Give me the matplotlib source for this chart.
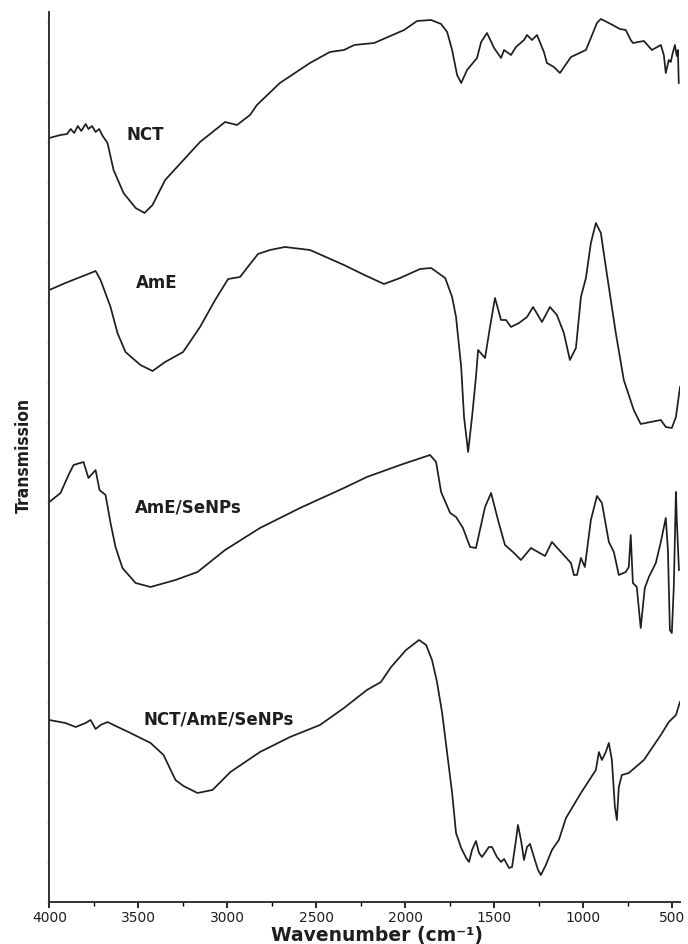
import numpy as np
import matplotlib.pyplot as plt
from matplotlib.ticker import MultipleLocator

# FTIR spectra (wavenumber in cm-1, transmission in offset arbitrary units)
nct_wn = [4000, 3937, 3900, 3880, 3860, 3840, 3820, 3796, 3780, 3760, 3740, 3720, 3700, 3673,
          3639, 3583, 3515, 3465, 3420, 3349, 3153, 3012, 2945, 2872, 2833, 2704, 2535, 2423,
          2344, 2286, 2174, 2006, 1933, 1854, 1798, 1764, 1736, 1708, 1685, 1652, 1596, 1573,
          1540, 1500, 1461, 1444, 1405, 1377, 1332, 1315, 1287, 1259, 1220, 1203, 1164, 1130,
          1068, 984, 956, 922, 900, 855, 793, 760, 732, 720, 658, 613, 563, 546, 535, 518,
          507, 496, 484, 473, 467, 462]
nct_tr = [770, 773, 774, 779, 775, 782, 777, 784, 779, 782, 776, 779, 772, 765,
          738, 715, 700, 695, 703, 728, 766, 786, 783, 793, 803, 825, 845, 856,
          858, 863, 865, 878, 887, 888, 884, 876, 858, 833, 825, 838, 850, 866,
          875, 860, 850, 858, 853, 861, 868, 873, 868, 873, 856, 845, 841, 835,
          851, 858, 870, 885, 889, 885, 879, 878, 868, 865, 867, 858, 863, 853, 835, 848,
          846, 855, 863, 852, 858, 825]

ame_wn = [4000, 3910, 3796, 3740, 3712, 3656, 3617, 3572, 3488, 3420, 3349, 3248, 3153, 3068,
          2995, 2928, 2889, 2827, 2760, 2676, 2535, 2344, 2229, 2119, 2028, 1916, 1854, 1775,
          1736, 1714, 1685, 1669, 1646, 1624, 1602, 1590, 1551, 1523, 1495, 1461, 1433, 1405,
          1360, 1315, 1281, 1231, 1186, 1147, 1108, 1074, 1040, 1012, 984, 956, 928, 900, 872,
          816, 771, 715, 676, 563, 535, 501, 478, 455]
ame_tr = [618, 625, 633, 637, 628, 601, 575, 556, 543, 537, 546, 556, 581, 608,
          629, 631, 640, 654, 658, 661, 658, 643, 633, 624, 630, 639, 640, 630,
          611, 591, 541, 491, 456, 491, 531, 558, 550, 581, 610, 588, 588, 581,
          585, 591, 601, 586, 601, 593, 575, 548, 560, 611, 630, 665, 685, 675, 641,
          575, 528, 498, 484, 488, 481, 480, 491, 521]

ame_se_wn = [4000, 3937, 3892, 3864, 3808, 3780, 3740, 3718, 3684, 3656, 3628, 3589, 3515,
             3431, 3291, 3167, 3012, 2816, 2591, 2344, 2215, 2028, 1860, 1826, 1798, 1747,
             1714, 1675, 1635, 1602, 1551, 1517, 1478, 1439, 1394, 1349, 1293, 1214, 1175,
             1124, 1068, 1051, 1034, 1012, 990, 956, 922, 894, 855, 827, 799, 760, 743, 732,
             720, 698, 676, 653, 630, 591, 563, 535, 523, 512, 501, 490, 478, 473, 461]
ame_se_tr = [406, 415, 433, 443, 446, 430, 438, 418, 413, 385, 361, 340, 325,
             321, 328, 336, 358, 380, 400, 420, 431, 443, 453, 446, 416, 395,
             391, 380, 361, 360, 401, 415, 388, 363, 356, 348, 360, 352, 366,
             356, 345, 333, 333, 350, 341, 388, 412, 405, 366, 356, 333, 336, 341, 373,
             325, 321, 280, 320, 331, 345, 366, 390, 358, 278, 275, 321, 416, 388, 338]

mix_wn = [4000, 3910, 3852, 3796, 3768, 3740, 3712, 3673, 3639, 3544, 3431, 3358, 3291, 3246,
          3167, 3083, 2982, 2816, 2647, 2479, 2344, 2215, 2136, 2079, 1995, 1922, 1882, 1849,
          1821, 1792, 1764, 1736, 1714, 1685, 1657, 1641, 1624, 1602, 1585, 1568, 1529, 1512,
          1484, 1461, 1444, 1416, 1399, 1377, 1366, 1349, 1332, 1315, 1298, 1276, 1253, 1237,
          1209, 1175, 1136, 1096, 1012, 928, 911, 894, 872, 855, 838, 821, 810, 799, 782, 743,
          658, 563, 518, 478, 455]
mix_tr = [188, 185, 181, 185, 188, 179, 183, 186, 183, 175, 165, 153, 128, 122,
          115, 118, 136, 156, 171, 183, 200, 218, 226, 241, 258, 268, 263, 248,
          226, 195, 155, 115, 75, 60, 50, 46, 58, 67, 55, 51, 61, 61,
          51, 46, 49, 40, 41, 68, 83, 68, 48, 61, 64, 51, 38, 33,
          43, 58, 68, 90, 115, 138, 156, 148, 156, 165, 148, 101, 88, 121, 133, 135,
          148, 173, 186, 193, 206]

labels = ["NCT", "AmE", "AmE/SeNPs", "NCT/AmE/SeNPs"]
label_pos = [(3459, 773), (3398, 625), (3218, 400), (3049, 188)]

ink = "#1e1e1e"

fig = plt.figure(figsize=(6.88, 9.44), dpi=100)
ax = fig.add_axes([0.0717, 0.0445, 0.9167, 0.9428])

for wn, tr in [(nct_wn, nct_tr), (ame_wn, ame_tr), (ame_se_wn, ame_se_tr), (mix_wn, mix_tr)]:
    ax.plot(wn, tr, color=ink, lw=1.25)

for text, (x, y) in zip(labels, label_pos):
    ax.text(x, y, text, ha="center", va="center", fontsize=12, fontweight="bold",
            family="DejaVu Sans", color=ink)

ax.set_xlim(4000, 455)
ax.set_ylim(6, 896)

ax.spines["top"].set_visible(False)
ax.spines["right"].set_visible(False)
for s in ["left", "bottom"]:
    ax.spines[s].set_linewidth(1.4)
    ax.spines[s].set_color("#333333")

ax.yaxis.set_major_locator(MultipleLocator(40, offset=6))
ax.tick_params(axis="y", which="major", direction="out", length=1.5, width=0.8,
               color="#999999", labelleft=False)
ax.xaxis.set_major_locator(MultipleLocator(500))
ax.xaxis.set_minor_locator(MultipleLocator(250))
ax.tick_params(axis="x", which="major", direction="out", length=4, width=1.2,
               labelsize=10, pad=2.5, labelcolor=ink)
ax.tick_params(axis="x", which="minor", direction="out", length=3, width=1.0)

fig.text(0.548, 1 - 926 / 944, "Wavenumber (cm\u207b\u00b9)", ha="center", va="top",
         fontsize=13.5, fontweight="bold", family="DejaVu Sans", color=ink)
fig.text(24 / 688, 1 - 455 / 944, "Transmission", rotation=90, ha="center", va="center",
         fontsize=12.5, fontweight="bold", fontstretch="condensed",
         family=["DejaVu Sans"], color=ink)

fig.savefig("out.png", dpi=100)
